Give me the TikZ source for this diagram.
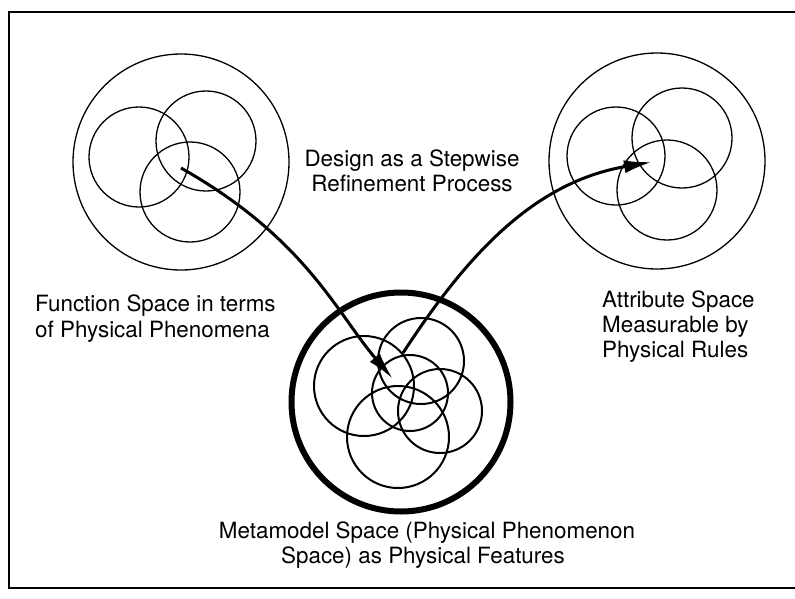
\documentclass[tikz,border=0pt]{standalone}
\usepackage{fontspec}
\setmainfont{TeX Gyre Heros}
\usetikzlibrary{arrows.meta}
\begin{document}
\begin{tikzpicture}[x=1pt,y=-1pt,
  thincirc/.style={circle,draw,line width=1.3pt,inner sep=0pt,minimum size=#1},
  medcirc/.style={circle,draw,line width=2pt,inner sep=0pt,minimum size=#1},
  label/.style={inner sep=0pt,font=\fontsize{22.4}{25.5}\selectfont},
  flow/.style={line width=3pt,-{Latex[length=28pt,width=13pt]}}]
\useasboundingbox (0,0) rectangle (795,598);
\fill[white] (0,0) rectangle (795,598);
% frame
\coordinate (ftr) at (800,12);
\coordinate (ftl) at (9,12);
\coordinate (fbl) at (9,588);
\coordinate (fbr) at (800,588);
\draw[line width=2pt] (ftr) -- (ftl) -- (fbl) -- (fbr);
% left space
\node[thincirc=216pt] (lout) at (181,162) {};
\node[thincirc=100pt] (la) at (139,157) {};
\node[thincirc=100pt] (lb) at (206,141) {};
\node[thincirc=100pt] (lc) at (190,192) {};
% right space
\node[thincirc=216pt] (rout) at (657,161) {};
\node[thincirc=98pt] (ra) at (616,156) {};
\node[thincirc=100pt] (rb) at (682,138) {};
\node[thincirc=100pt] (rc) at (667,190) {};
% bottom space
\node[circle,draw,line width=6pt,inner sep=0pt,minimum size=219pt] (bout) at (401,402) {};
\node[medcirc=100pt] (ba) at (364,386) {};
\node[medcirc=86pt] (bb) at (421,361) {};
\node[medcirc=76pt] (bc) at (410,393) {};
\node[medcirc=84pt] (bd) at (440,411) {};
\node[medcirc=102pt] (be) at (398,437) {};
% arrows
\coordinate (lstart) at (181,168);
\coordinate (ltip) at (393,379);
\coordinate (rstart) at (403,353);
\coordinate (rtip) at (652,162);
\draw[flow] (lstart) .. controls (305,238) and (336,312) .. (ltip);
\draw[flow] (rstart) .. controls (468,253) and (535,182) .. (rtip);
% labels
\node[label,anchor=base] (d1) at (412,166) {Design as a Stepwise};
\node[label,anchor=base] (d2) at (412,191) {Refinement Process};
\node[label,anchor=base west] (f1) at (35,311) {Function Space in terms};
\node[label,anchor=base west] (f2) at (35,337) {of Physical Phenomena};
\node[label,anchor=base west] (a1) at (602,307) {Attribute Space};
\node[label,anchor=base west] (a2) at (602,332) {Measurable by};
\node[label,anchor=base west] (a3) at (602,357) {Physical Rules};
\node[label,anchor=base] (m1) at (427,538) {Metamodel Space (Physical Phenomenon};
\node[label,anchor=base] (m2) at (423,563) {Space) as Physical Features};
\end{tikzpicture}
\end{document}
